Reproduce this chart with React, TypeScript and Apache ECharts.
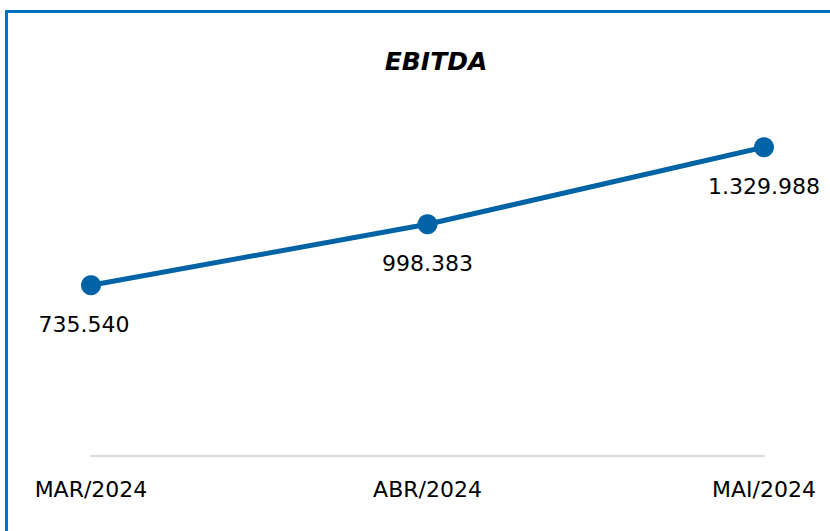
import React, { useEffect, useRef } from "react";
import * as echarts from "echarts";

const categories = ["MAR/2024", "ABR/2024", "MAI/2024"];
const ebitdaValues = [735540, 998383, 1329988];
const titleText = "EBITDA";

const fmt = (v: number) => v.toLocaleString("de-DE");

export default function App() {
  const ref = useRef<HTMLDivElement>(null);
  useEffect(() => {
    const chart = echarts.init(ref.current!, null, { renderer: "svg" });
    chart.setOption({
      animation: false,
      backgroundColor: "#ffffff",
      title: {
        text: titleText,
        left: 431,
        textAlign: "center",
        top: 44,
        textStyle: {
          fontFamily: "DejaVu Sans",
          fontWeight: "bold",
          fontStyle: "italic",
          fontSize: 25,
          color: "#000000",
        },
      },
      graphic: [
        {
          type: "line",
          shape: { x1: 5, y1: 11.5, x2: 830, y2: 11.5 },
          style: { stroke: "#0070C0", lineWidth: 3 },
        },
        {
          type: "line",
          shape: { x1: 6.5, y1: 10, x2: 6.5, y2: 531 },
          style: { stroke: "#0070C0", lineWidth: 3 },
        },
      ],
      grid: { left: 91, right: 66, top: 131, bottom: 75 },
      xAxis: {
        type: "category",
        data: categories,
        boundaryGap: false,
        axisLine: { lineStyle: { color: "#D9D9D9", width: 2 } },
        axisTick: { show: false },
        axisLabel: {
          margin: 22,
          fontFamily: "DejaVu Sans",
          fontSize: 22,
          color: "#000000",
          interval: 0,
        },
      },
      yAxis: {
        type: "value",
        min: 0,
        max: 1400000,
        show: false,
        splitLine: { show: false },
      },
      series: [
        {
          type: "line",
          data: ebitdaValues.map((v, i) =>
            i === 0 ? { value: v, label: { offset: [-7, 0] } } : v
          ),
          symbol: "circle",
          symbolSize: 20,
          lineStyle: { color: "#0063A6", width: 5 },
          itemStyle: { color: "#0063A6" },
          label: {
            show: true,
            position: "bottom",
            distance: 18,
            formatter: (p: any) => fmt(p.value),
            fontFamily: "DejaVu Sans",
            fontSize: 22,
            color: "#000000",
          },
        },
      ],
    });
    return () => chart.dispose();
  }, []);
  return (
    <div
      ref={ref}
      style={{ position: "absolute", left: 0, top: 0, width: 830, height: 531 }}
    />
  );
}
